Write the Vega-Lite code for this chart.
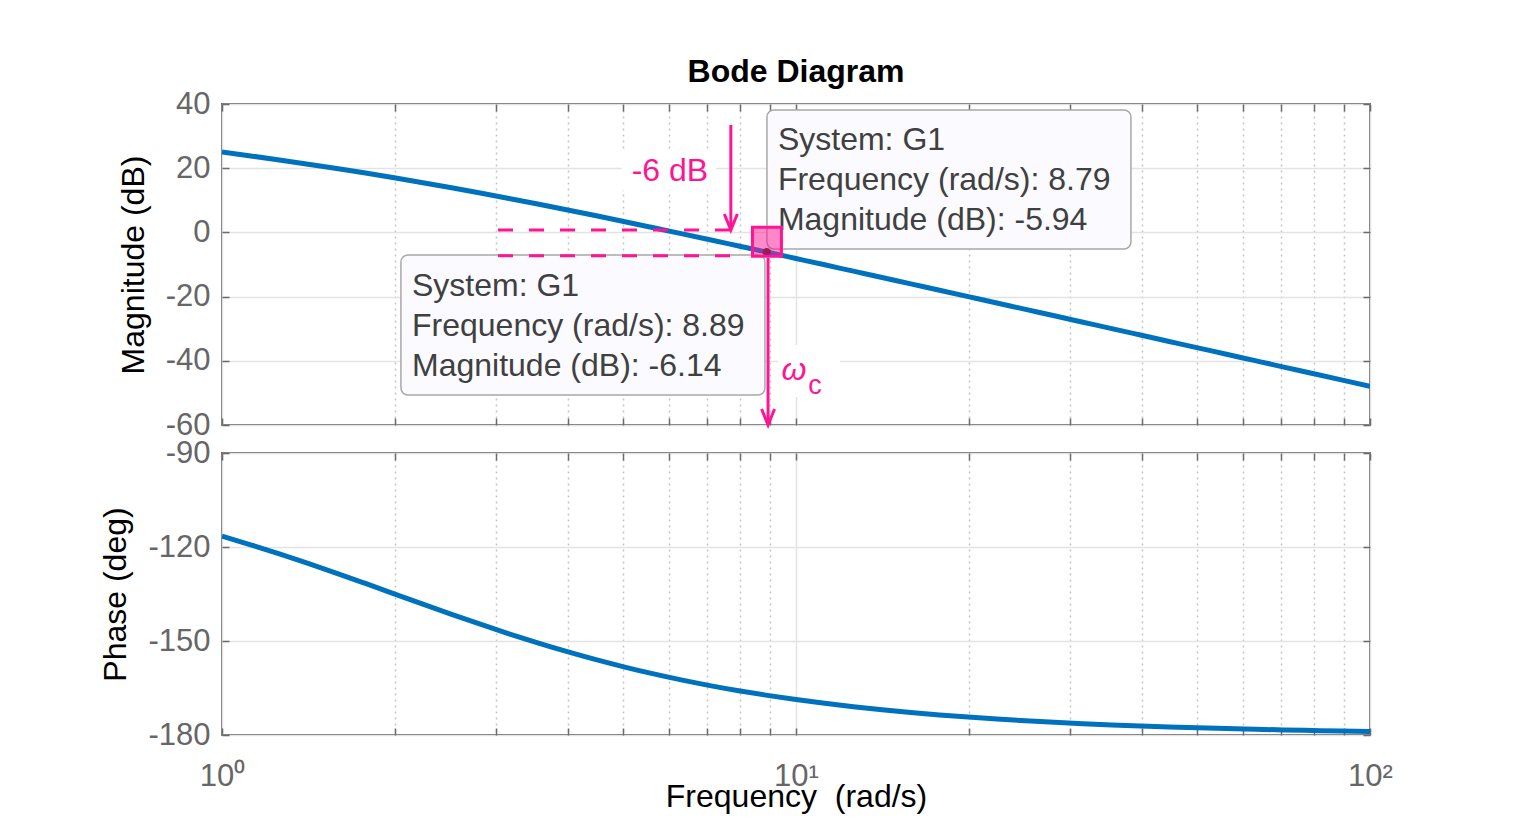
{
  "$schema": "https://vega.github.io/schema/vega-lite/v6.json",
  "autosize": {"type": "pad"},
  "padding": {"left": 98, "top": 55, "right": 5, "bottom": 5},
  "background": "white",
  "spacing": 28,
  "bounds": "flush",
  "config": {
    "view": {"stroke": "#6b6b6b", "strokeWidth": 2},
    "axis": {
      "labelFont": "Liberation Sans", "titleFont": "Liberation Sans",
      "labelFontSize": 31, "titleFontSize": 32,
      "labelColor": "#666666", "titleColor": "#000000", "titleFontWeight": "normal",
      "domain": false, "ticks": false, "tickColor": "#6b6b6b", "tickWidth": 1.5,
      "gridColor": "#e3e3e3", "gridWidth": 1.5, "labelOverlap": false, "labelFlush": false, "labelBound": false
    }
  },
  "datasets": {
    "bode": [
      {"w": 1, "mag": 25.05, "phase": -116.57},
      {"w": 1.122, "mag": 23.83, "phase": -119.30},
      {"w": 1.2589, "mag": 22.57, "phase": -122.19},
      {"w": 1.4125, "mag": 21.26, "phase": -125.24},
      {"w": 1.5849, "mag": 19.90, "phase": -128.39},
      {"w": 1.7783, "mag": 18.49, "phase": -131.64},
      {"w": 1.9953, "mag": 17.02, "phase": -134.93},
      {"w": 2.2387, "mag": 15.49, "phase": -138.22},
      {"w": 2.5119, "mag": 13.91, "phase": -141.47},
      {"w": 2.8184, "mag": 12.27, "phase": -144.64},
      {"w": 3.1623, "mag": 10.58, "phase": -147.69},
      {"w": 3.5481, "mag": 8.84, "phase": -150.59},
      {"w": 3.9811, "mag": 7.06, "phase": -153.33},
      {"w": 4.4668, "mag": 5.25, "phase": -155.88},
      {"w": 5.0119, "mag": 3.40, "phase": -158.24},
      {"w": 5.6234, "mag": 1.52, "phase": -160.42},
      {"w": 6.3096, "mag": -0.37, "phase": -162.41},
      {"w": 7.0795, "mag": -2.29, "phase": -164.23},
      {"w": 7.9433, "mag": -4.23, "phase": -165.87},
      {"w": 8.9125, "mag": -6.17, "phase": -167.35},
      {"w": 10, "mag": -8.13, "phase": -168.69},
      {"w": 11.22, "mag": -10.09, "phase": -169.89},
      {"w": 12.589, "mag": -12.07, "phase": -170.97},
      {"w": 14.125, "mag": -14.04, "phase": -171.94},
      {"w": 15.849, "mag": -16.03, "phase": -172.81},
      {"w": 17.783, "mag": -18.01, "phase": -173.58},
      {"w": 19.953, "mag": -20.00, "phase": -174.28},
      {"w": 22.387, "mag": -21.99, "phase": -174.89},
      {"w": 25.119, "mag": -23.99, "phase": -175.45},
      {"w": 28.184, "mag": -25.98, "phase": -175.94},
      {"w": 31.623, "mag": -27.98, "phase": -176.38},
      {"w": 35.481, "mag": -29.97, "phase": -176.77},
      {"w": 39.811, "mag": -31.97, "phase": -177.12},
      {"w": 44.668, "mag": -33.97, "phase": -177.44},
      {"w": 50.119, "mag": -35.97, "phase": -177.71},
      {"w": 56.234, "mag": -37.96, "phase": -177.96},
      {"w": 63.096, "mag": -39.96, "phase": -178.18},
      {"w": 70.795, "mag": -41.96, "phase": -178.38},
      {"w": 79.433, "mag": -43.96, "phase": -178.56},
      {"w": 89.125, "mag": -45.96, "phase": -178.71},
      {"w": 100, "mag": -47.96, "phase": -178.85}
    ]
  },
  "vconcat": [
    {
      "width": 1148,
      "height": 321,
      "title": {"text": "Bode Diagram", "font": "Liberation Sans", "fontSize": 32, "fontWeight": "bold", "color": "#000000", "anchor": "middle", "frame": "group", "baseline": "alphabetic", "offset": -26},
      "resolve": {"axis": {"x": "independent", "y": "independent"}},
      "layer": [
        {
          "data": {"name": "bode"},
          "mark": {"type": "line", "color": "#0072bd", "strokeWidth": 5, "interpolate": "monotone", "clip": true},
          "encoding": {
            "x": {"field": "w", "type": "quantitative", "scale": {"type": "log", "domain": [1, 100]},
              "axis": {"orient": "bottom", "values": [1,2,3,4,5,6,7,8,9,10,20,30,40,50,60,70,80,90,100], "labels": false, "ticks": false, "title": null, "grid": true, "minExtent": 0, "maxExtent": 0,
                "gridDash": {"condition": {"test": "datum.value == 1 || datum.value == 10 || datum.value == 100", "value": []}, "value": [2, 4]},
                "gridColor": {"condition": {"test": "datum.value == 1 || datum.value == 10 || datum.value == 100", "value": "#e3e3e3"}, "value": "#c4c4c4"}}},
            "y": {"field": "mag", "type": "quantitative", "scale": {"domain": [-60, 40]},
              "axis": {"orient": "left", "values": [-60, -40, -20, 0, 20, 40], "labelExpr": "'' + datum.value", "labelPadding": 12, "title": "Magnitude (dB)", "titlePadding": 15, "grid": true}}
          }
        },
        {
          "data": {"name": "bode"},
          "mark": {"type": "line", "opacity": 0},
          "encoding": {
            "x": {"field": "w", "type": "quantitative", "scale": {"type": "log", "domain": [1, 100]},
              "axis": {"orient": "bottom", "offset": -7, "values": [1,2,3,4,5,6,7,8,9,10,20,30,40,50,60,70,80,90,100], "ticks": true, "tickSize": 7, "labels": false, "grid": false, "title": null, "minExtent": 0, "maxExtent": 0}},
            "y": {"field": "mag", "type": "quantitative", "scale": {"domain": [-60, 40]},
              "axis": {"orient": "left", "offset": -7, "values": [-60, -40, -20, 0, 20, 40], "ticks": true, "tickSize": 7, "labels": false, "grid": false, "title": null, "minExtent": 0, "maxExtent": 0}}
          }
        },
        {
          "data": {"name": "bode"},
          "mark": {"type": "line", "opacity": 0},
          "encoding": {
            "x": {"field": "w", "type": "quantitative", "scale": {"type": "log", "domain": [1, 100]},
              "axis": {"orient": "top", "offset": -7, "values": [1,2,3,4,5,6,7,8,9,10,20,30,40,50,60,70,80,90,100], "ticks": true, "tickSize": 7, "labels": false, "grid": false, "title": null, "minExtent": 0, "maxExtent": 0}},
            "y": {"field": "mag", "type": "quantitative", "scale": {"domain": [-60, 40]},
              "axis": {"orient": "right", "offset": -7, "values": [-60, -40, -20, 0, 20, 40], "ticks": true, "tickSize": 7, "labels": false, "grid": false, "title": null, "minExtent": 0, "maxExtent": 0}}
          }
        },
        {
          "data": {"values": [
            {"w1": 4.97, "w2": 7.25, "m1": 25.05, "m2": 13.21},
            {"w1": 9.3, "w2": 11.93, "m1": -35.08, "m2": -51.28}
          ]},
          "mark": {"type": "rect", "color": "#ffffff"},
          "encoding": {
            "x": {"field": "w1", "type": "quantitative", "scale": {"type": "log", "domain": [1, 100]}, "axis": null},
            "x2": {"field": "w2"},
            "y": {"field": "m1", "type": "quantitative", "scale": {"domain": [-60, 40]}, "axis": null},
            "y2": {"field": "m2"}
          }
        },
        {
          "data": {"values": [
            {"w1": 8.9, "w2": 38.33, "m1": 38.13, "m2": -5.17},
            {"w1": 2.05, "w2": 8.83, "m1": -7.04, "m2": -50.65}
          ]},
          "mark": {"type": "rect", "fill": "#fafaff", "stroke": "#a8a8a8", "strokeWidth": 1.5, "cornerRadius": 7},
          "encoding": {
            "x": {"field": "w1", "type": "quantitative", "scale": {"type": "log", "domain": [1, 100]}, "axis": null},
            "x2": {"field": "w2"},
            "y": {"field": "m1", "type": "quantitative", "scale": {"domain": [-60, 40]}, "axis": null},
            "y2": {"field": "m2"}
          }
        },
        {
          "data": {"values": [
            {"w": 9.3, "m": 28.79, "t": "System: G1"},
            {"w": 9.3, "m": 16.32, "t": "Frequency (rad/s): 8.79"},
            {"w": 9.3, "m": 3.86, "t": "Magnitude (dB): -5.94"},
            {"w": 2.143, "m": -16.70, "t": "System: G1"},
            {"w": 2.143, "m": -29.16, "t": "Frequency (rad/s): 8.89"},
            {"w": 2.143, "m": -41.62, "t": "Magnitude (dB): -6.14"}
          ]},
          "mark": {"type": "text", "font": "Liberation Sans", "fontSize": 32, "color": "#404040", "align": "left", "baseline": "middle"},
          "encoding": {
            "x": {"field": "w", "type": "quantitative", "scale": {"type": "log", "domain": [1, 100]}, "axis": null},
            "y": {"field": "m", "type": "quantitative", "scale": {"domain": [-60, 40]}, "axis": null},
            "text": {"field": "t"}
          }
        },
        {
          "data": {"values": [
            {"w1": 3.026, "w2": 7.83, "m": 0.75},
            {"w1": 3.026, "w2": 7.83, "m": -7.26}
          ]},
          "mark": {"type": "rule", "color": "#ff1493", "strokeWidth": 3, "strokeDash": [15, 16]},
          "encoding": {
            "x": {"field": "w1", "type": "quantitative", "scale": {"type": "log", "domain": [1, 100]}, "axis": null},
            "x2": {"field": "w2"},
            "y": {"field": "m", "type": "quantitative", "scale": {"domain": [-60, 40]}, "axis": null}
          }
        },
        {
          "data": {"values": [
            {"w": 7.7, "m1": 33.46, "m2": 1.2},
            {"w": 8.94, "m1": -7.98, "m2": -59.6}
          ]},
          "mark": {"type": "rule", "color": "#ff1493", "strokeWidth": 3},
          "encoding": {
            "x": {"field": "w", "type": "quantitative", "scale": {"type": "log", "domain": [1, 100]}, "axis": null},
            "y": {"field": "m1", "type": "quantitative", "scale": {"domain": [-60, 40]}, "axis": null},
            "y2": {"field": "m2"}
          }
        },
        {
          "data": {"values": [
            {"w": 7.7, "m": 0.75},
            {"w": 8.94, "m": -60}
          ]},
          "mark": {"type": "point", "shape": "M -6.5 -16 L 0 0 L 6.5 -16", "size": 4, "filled": false, "stroke": "#ff1493", "strokeWidth": 3, "opacity": 1},
          "encoding": {
            "x": {"field": "w", "type": "quantitative", "scale": {"type": "log", "domain": [1, 100]}, "axis": null},
            "y": {"field": "m", "type": "quantitative", "scale": {"domain": [-60, 40]}, "axis": null}
          }
        },
        {
          "data": {"values": [
            {"w": 6.03, "m": 19.13, "t": "-6 dB"}
          ]},
          "mark": {"type": "text", "font": "Liberation Sans", "fontSize": 32, "color": "#ff1493", "align": "center", "baseline": "middle"},
          "encoding": {
            "x": {"field": "w", "type": "quantitative", "scale": {"type": "log", "domain": [1, 100]}, "axis": null},
            "y": {"field": "m", "type": "quantitative", "scale": {"domain": [-60, 40]}, "axis": null},
            "text": {"field": "t"}
          }
        },
        {
          "data": {"values": [
            {"w": 9.92, "m": -42.87, "t": "ω"}
          ]},
          "mark": {"type": "text", "font": "Liberation Sans", "fontSize": 32, "fontStyle": "italic", "color": "#ff1493", "align": "center", "baseline": "middle"},
          "encoding": {
            "x": {"field": "w", "type": "quantitative", "scale": {"type": "log", "domain": [1, 100]}, "axis": null},
            "y": {"field": "m", "type": "quantitative", "scale": {"domain": [-60, 40]}, "axis": null},
            "text": {"field": "t"}
          }
        },
        {
          "data": {"values": [
            {"w": 10.79, "m": -47.85, "t": "c"}
          ]},
          "mark": {"type": "text", "font": "Liberation Sans", "fontSize": 27, "color": "#ff1493", "align": "center", "baseline": "middle"},
          "encoding": {
            "x": {"field": "w", "type": "quantitative", "scale": {"type": "log", "domain": [1, 100]}, "axis": null},
            "y": {"field": "m", "type": "quantitative", "scale": {"domain": [-60, 40]}, "axis": null},
            "text": {"field": "t"}
          }
        },
        {
          "data": {"values": [
            {"w": 8.89, "m": -6.14}
          ]},
          "mark": {"type": "point", "shape": "circle", "size": 70, "filled": true, "color": "#262626", "opacity": 1},
          "encoding": {
            "x": {"field": "w", "type": "quantitative", "scale": {"type": "log", "domain": [1, 100]}, "axis": null},
            "y": {"field": "m", "type": "quantitative", "scale": {"domain": [-60, 40]}, "axis": null}
          }
        },
        {
          "data": {"values": [
            {"w": 8.9, "m": -2.9}
          ]},
          "mark": {"type": "point", "shape": "square", "size": 841, "filled": true, "fill": "#ff1493", "fillOpacity": 0.5, "stroke": "#ff1493", "strokeWidth": 3, "strokeOpacity": 1},
          "encoding": {
            "x": {"field": "w", "type": "quantitative", "scale": {"type": "log", "domain": [1, 100]}, "axis": null},
            "y": {"field": "m", "type": "quantitative", "scale": {"domain": [-60, 40]}, "axis": null}
          }
        }
      ]
    },
    {
      "width": 1148,
      "height": 282,
      "resolve": {"axis": {"x": "independent", "y": "independent"}},
      "layer": [
        {
          "data": {"name": "bode"},
          "mark": {"type": "line", "color": "#0072bd", "strokeWidth": 5, "interpolate": "monotone", "clip": true},
          "encoding": {
            "x": {"field": "w", "type": "quantitative", "scale": {"type": "log", "domain": [1, 100]},
              "axis": {"orient": "bottom", "values": [1,2,3,4,5,6,7,8,9,10,20,30,40,50,60,70,80,90,100],
                "labelExpr": "datum.value == 1 ? '10⁰' : datum.value == 10 ? '10¹' : datum.value == 100 ? '10²' : ''",
                "labelPadding": 26, "ticks": false, "title": "Frequency\u00a0 (rad/s)", "titlePadding": -10, "grid": true,
                "gridDash": {"condition": {"test": "datum.value == 1 || datum.value == 10 || datum.value == 100", "value": []}, "value": [2, 4]},
                "gridColor": {"condition": {"test": "datum.value == 1 || datum.value == 10 || datum.value == 100", "value": "#e3e3e3"}, "value": "#c4c4c4"}}},
            "y": {"field": "phase", "type": "quantitative", "scale": {"domain": [-180, -90]},
              "axis": {"orient": "left", "values": [-180, -150, -120, -90], "labelExpr": "'' + datum.value", "labelPadding": 12, "title": "Phase (deg)", "titlePadding": 15, "grid": true}}
          }
        },
        {
          "data": {"name": "bode"},
          "mark": {"type": "line", "opacity": 0},
          "encoding": {
            "x": {"field": "w", "type": "quantitative", "scale": {"type": "log", "domain": [1, 100]},
              "axis": {"orient": "bottom", "offset": -7, "values": [1,2,3,4,5,6,7,8,9,10,20,30,40,50,60,70,80,90,100], "ticks": true, "tickSize": 7, "labels": false, "grid": false, "title": null, "minExtent": 0, "maxExtent": 0}},
            "y": {"field": "phase", "type": "quantitative", "scale": {"domain": [-180, -90]},
              "axis": {"orient": "left", "offset": -7, "values": [-180, -150, -120, -90], "ticks": true, "tickSize": 7, "labels": false, "grid": false, "title": null, "minExtent": 0, "maxExtent": 0}}
          }
        },
        {
          "data": {"name": "bode"},
          "mark": {"type": "line", "opacity": 0},
          "encoding": {
            "x": {"field": "w", "type": "quantitative", "scale": {"type": "log", "domain": [1, 100]},
              "axis": {"orient": "top", "offset": -7, "values": [1,2,3,4,5,6,7,8,9,10,20,30,40,50,60,70,80,90,100], "ticks": true, "tickSize": 7, "labels": false, "grid": false, "title": null, "minExtent": 0, "maxExtent": 0}},
            "y": {"field": "phase", "type": "quantitative", "scale": {"domain": [-180, -90]},
              "axis": {"orient": "right", "offset": -7, "values": [-180, -150, -120, -90], "ticks": true, "tickSize": 7, "labels": false, "grid": false, "title": null, "minExtent": 0, "maxExtent": 0}}
          }
        }
      ]
    }
  ]
}
